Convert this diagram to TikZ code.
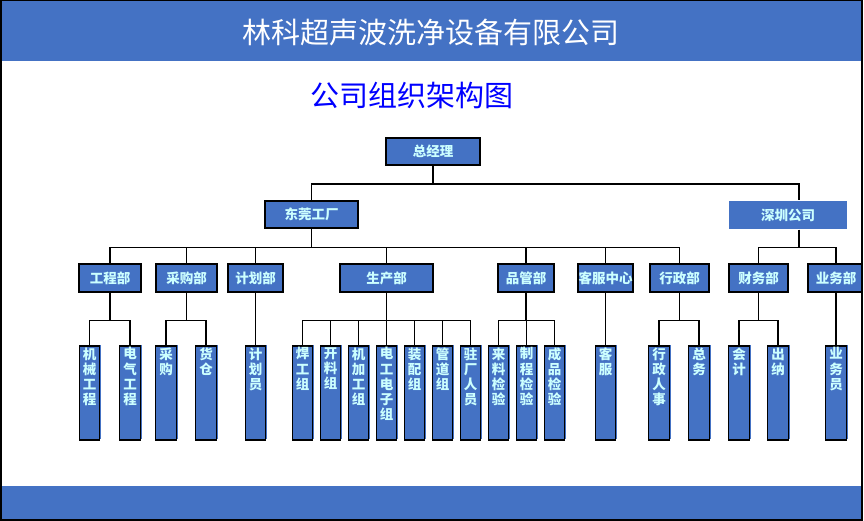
\documentclass[tikz,border=0pt]{standalone}
\usepackage{fontspec}
\newfontfamily\cjk{Noto Sans CJK SC}
\usetikzlibrary{shadows}
\definecolor{boxblue}{HTML}{4472C4}
\definecolor{txtcyan}{HTML}{CCFFFF}
\definecolor{ttlblue}{HTML}{0000FF}
\newcommand\leaf[3]{%
  \node[leafbox] (#1) at (#2,393) {};
  \node[leaftxt] at ([yshift=-2pt]#1.north) {#3};}
\newcommand\grp[2]{%
  \draw[conn] (#1.south) -- ++(0,28) coordinate (#1b);
  \foreach \l in {#2} \draw[conn] (#1b) -| (\l.north);}
\begin{document}
\begin{tikzpicture}[x=1pt,y=-1pt,
  unit/.style={draw=black, line width=1.3pt, fill=boxblue, text=txtcyan,
    font=\cjk\bfseries\fontsize{13.5}{15}\selectfont, inner sep=0pt, minimum height=28pt},
  shad/.style={drop shadow={shadow xshift=1.3pt, shadow yshift=1.3pt, fill=boxblue, opacity=1}},
  leafbox/.style={unit, shad, minimum height=94pt, minimum width=20.5pt},
  leaftxt/.style={text=txtcyan, font=\cjk\bfseries\fontsize{13.5}{15.2}\selectfont,
    align=center, inner sep=0pt, anchor=north},
  conn/.style={line width=1.3pt, black}]
\useasboundingbox (0,0) rectangle (864,520);
% bands
\fill[boxblue] (1,1) rectangle (862,61);
\fill[boxblue] (1,486) rectangle (862,520);
\node[font=\cjk\fontsize{29}{31}\selectfont, text=white, inner sep=0pt] (hdr) at (431,33) {林科超声波洗净设备有限公司};
\node[font=\cjk\fontsize{29}{31}\selectfont, text=ttlblue, inner sep=0pt] (ttl) at (412,95) {公司组织架构图};
% top levels
\node[unit, minimum width=94pt, minimum height=27pt] (zjl) at (433,151.5) {总经理};
\node[unit, minimum width=93pt, minimum height=27pt] (dg) at (311.5,214.5) {东莞工厂};
\node[unit, draw=none, minimum width=118pt] (sz) at (788,215) {深圳公司};
% level 2
\node[unit, shad, minimum width=62pt] (gc) at (110,278) {工程部};
\node[unit, shad, minimum width=61pt] (cg) at (186.5,278) {采购部};
\node[unit, shad, minimum width=55pt] (jh) at (255.5,278) {计划部};
\node[unit, shad, minimum width=93pt] (sc) at (386.5,278) {生产部};
\node[unit, shad, minimum width=56pt] (pg) at (526,278) {品管部};
\node[unit, shad, minimum width=55pt] (kf) at (605.5,278) {客服中心};
\node[unit, shad, minimum width=59pt] (xz) at (679.5,278) {行政部};
\node[unit, shad, minimum width=59pt] (cw) at (758.5,278) {财务部};
\node[unit, shad, minimum width=56pt] (yw) at (836,278) {业务部};
% leaves
\leaf{jx}{89.5}{机\\械\\工\\程}
\leaf{dq}{130}{电\\气\\工\\程}
\leaf{cgl}{166}{采\\购}
\leaf{hc}{206}{货\\仓}
\leaf{jhy}{255.5}{计\\划\\员}
\leaf{hg}{302.5}{焊\\工\\组}
\leaf{kl}{330.5}{开\\料\\组}
\leaf{jjg}{358.5}{机\\加\\工\\组}
\leaf{dgdz}{386.5}{电\\工\\电\\子\\组}
\leaf{zp}{414.5}{装\\配\\组}
\leaf{gd}{442.5}{管\\道\\组}
\leaf{zc}{470.5}{驻\\厂\\人\\员}
\leaf{ll}{498.5}{来\\料\\检\\验}
\leaf{zcj}{526.5}{制\\程\\检\\验}
\leaf{cp}{554.5}{成\\品\\检\\验}
\leaf{kfl}{605.5}{客\\服}
\leaf{xzrs}{659}{行\\政\\人\\事}
\leaf{zw}{699}{总\\务}
\leaf{kj}{739}{会\\计}
\leaf{cn}{778}{出\\纳}
\leaf{ywy}{836}{业\\务\\员}
% connectors
\draw[conn] (zjl.south) -- ++(0,18.3) coordinate (zb);
\draw[conn] (zb) -| (dg.north);
\draw[conn] (zb) -| ([xshift=11pt]sz.north);
\draw[conn] (dg.south) -- ++(0,18.7) coordinate (dgb);
\foreach \n in {gc,cg,jh,sc,pg,kf,xz} \draw[conn] (dgb) -| (\n.north);
\draw[conn] ([xshift=11pt]sz.south) -- ++(0,18) coordinate (szb);
\foreach \n in {cw,yw} \draw[conn] (szb) -| (\n.north);
\grp{gc}{jx,dq}
\grp{cg}{cgl,hc}
\grp{jh}{jhy}
\grp{sc}{hg,kl,jjg,dgdz,zp,gd,zc}
\grp{pg}{ll,zcj,cp}
\grp{kf}{kfl}
\grp{xz}{xzrs,zw}
\grp{cw}{kj,cn}
\grp{yw}{ywy}
% frame
\fill[white] (862.6,0) rectangle (864,520);
\draw[line width=1.3pt] (1,0.7) rectangle (862,520);
\end{tikzpicture}
\end{document}
